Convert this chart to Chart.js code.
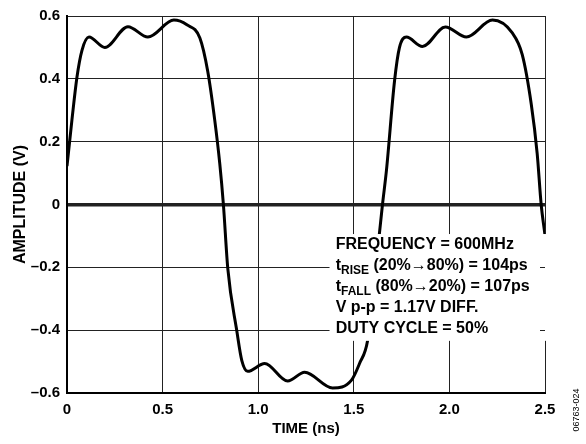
<!DOCTYPE html>
<html>
<head>
<meta charset="utf-8">
<script src="https://cdn.jsdelivr.net/npm/chart.js@4/dist/chart.umd.min.js"></script>
<style>
  html, body { margin: 0; padding: 0; background: #fff; }
  #wrap { width: 586px; height: 444px; }
</style>
</head>
<body>
<div id="wrap"><canvas id="scope"></canvas></div>
<script>
// waveform (time in ns, amplitude in V)
const timeNs = [0, 0.026, 0.052, 0.078, 0.115, 0.198, 0.319, 0.423, 0.559, 0.627, 0.695, 0.736, 0.773, 0.799, 0.818,
  0.841, 0.888, 0.914, 0.945, 1.034, 1.154, 1.243, 1.389, 1.488, 1.53, 1.572, 1.61, 1.65,
  1.671, 1.713, 1.739, 1.775, 1.859, 1.979, 2.089, 2.225, 2.329, 2.381, 2.428, 2.459, 2.48, 2.5];
const amplitude = [0.122, 0.27, 0.405, 0.49, 0.533, 0.50, 0.566, 0.533, 0.587, 0.572, 0.53, 0.424, 0.267, 0.13, 0.0,
  -0.204, -0.402, -0.496, -0.531, -0.506, -0.562, -0.534, -0.584, -0.559, -0.506, -0.434, -0.23, 0.0,
  0.11, 0.393, 0.50, 0.533, 0.503, 0.565, 0.533, 0.587, 0.546, 0.477, 0.32, 0.163, 0.0, -0.097];

const xTicks = [0, 0.5, 1.0, 1.5, 2.0, 2.5];
const yTicks = [-0.6, -0.4, -0.2, 0, 0.2, 0.4, 0.6];

const noteLines = [
  ["FREQUENCY = 600MHz"],
  ["t", "RISE", " (20%\u219280%) = 104ps"],
  ["t", "FALL", " (80%\u219220%) = 107ps"],
  ["V p-p = 1.17V DIFF."],
  ["DUTY CYCLE = 50%"]
];

const FONT = "'Liberation Sans', Arial, Helvetica, sans-serif";

function fmtY(v) {
  if (Math.abs(v) < 1e-9) return "0";
  const s = Math.abs(v).toFixed(1);
  return v < 0 ? "\u2013" + s : s;
}
function fmtX(v) {
  if (v === 0) return "0";
  return v.toFixed(1);
}

// white box with the measurement notes, placed in data units
const notesPlugin = {
  id: "notes",
  afterDatasetsDraw(chart) {
    const { ctx, scales: { x, y } } = chart;
    const l = x.getPixelForValue(1.373), r = x.right + 2;
    const t = y.getPixelForValue(-0.094), b = y.getPixelForValue(-0.434);
    ctx.save();
    ctx.fillStyle = "#fff";
    ctx.fillRect(l, t, r - l, b - t);
    // short grid stubs left at the right edge
    ctx.strokeStyle = "#222";
    ctx.lineWidth = 1;
    [-0.2, -0.4].forEach(v => {
      const py = Math.round(y.getPixelForValue(v)) + 0.5;
      ctx.beginPath();
      ctx.moveTo(x.right - 5, py);
      ctx.lineTo(x.right, py);
      ctx.stroke();
    });
    ctx.fillStyle = "#000";
    ctx.textBaseline = "alphabetic";
    const tx0 = x.getPixelForValue(1.405);
    let base = y.getPixelForValue(-0.141);
    noteLines.forEach(parts => {
      let tx = tx0;
      ctx.font = "bold 16px " + FONT;
      ctx.fillText(parts[0], tx, base);
      if (parts.length > 1) {
        tx += ctx.measureText(parts[0]).width;
        ctx.font = "bold 12px " + FONT;
        ctx.fillText(parts[1], tx, base + 4);
        tx += ctx.measureText(parts[1]).width;
        ctx.font = "bold 16px " + FONT;
        ctx.fillText(parts[2], tx, base);
      }
      base += 21;
    });
    ctx.restore();
  },
  afterDraw(chart) {
    const { ctx } = chart;
    ctx.save();
    ctx.translate(577, 410);
    ctx.rotate(-Math.PI / 2);
    ctx.font = "9px " + FONT;
    ctx.fillStyle = "#000";
    ctx.textAlign = "center";
    ctx.textBaseline = "middle";
    ctx.fillText("06763-024", 0, 0);
    ctx.restore();
  }
};

new Chart(document.getElementById("scope"), {
  type: "line",
  data: {
    datasets: [{
      data: timeNs.map((t, i) => ({ x: t, y: amplitude[i] })),
      borderColor: "#000",
      borderWidth: 3,
      pointRadius: 0,
      cubicInterpolationMode: "monotone",
      fill: false
    }]
  },
  options: {
    responsive: true,
    maintainAspectRatio: false,
    animation: false,
    events: [],
    layout: { padding: { top: 11, right: 41, left: 0, bottom: 0 } },
    plugins: { legend: { display: false }, tooltip: { enabled: false } },
    scales: {
      x: {
        type: "linear",
        min: 0, max: 2.5,
        afterBuildTicks: s => { s.ticks = xTicks.map(v => ({ value: v })); },
        afterFit: s => { s.height = 51; },
        grid: {
          color: "#222",
          lineWidth: 1,
          drawTicks: false
        },
        border: { color: "#000", width: 2 },
        ticks: {
          color: "#000",
          font: { family: FONT, size: 15, weight: "bold" },
          padding: 8,
          maxRotation: 0,
          callback: v => fmtX(v)
        },
        title: {
          display: true,
          text: "TIME (ns)",
          color: "#000",
          font: { family: FONT, size: 15, weight: "bold" },
          padding: { top: 2, bottom: 6 }
        }
      },
      y: {
        type: "linear",
        min: -0.6, max: 0.6,
        afterBuildTicks: s => { s.ticks = yTicks.map(v => ({ value: v })); },
        afterFit: s => { s.width = 67; },
        grid: {
          color: "#222",
          lineWidth: c => (c.tick && Math.abs(c.tick.value) < 1e-9 ? 3.5 : 1),
          drawTicks: false
        },
        border: { color: "#000", width: 2 },
        ticks: {
          color: "#000",
          font: { family: FONT, size: 15, weight: "bold" },
          padding: 7,
          callback: v => fmtY(v)
        },
        title: {
          display: true,
          text: "AMPLITUDE (V)",
          color: "#000",
          font: { family: FONT, size: 16, weight: "bold" },
          padding: { top: 11, bottom: 4 }
        }
      }
    }
  },
  plugins: [notesPlugin]
});
</script>
</body>
</html>
